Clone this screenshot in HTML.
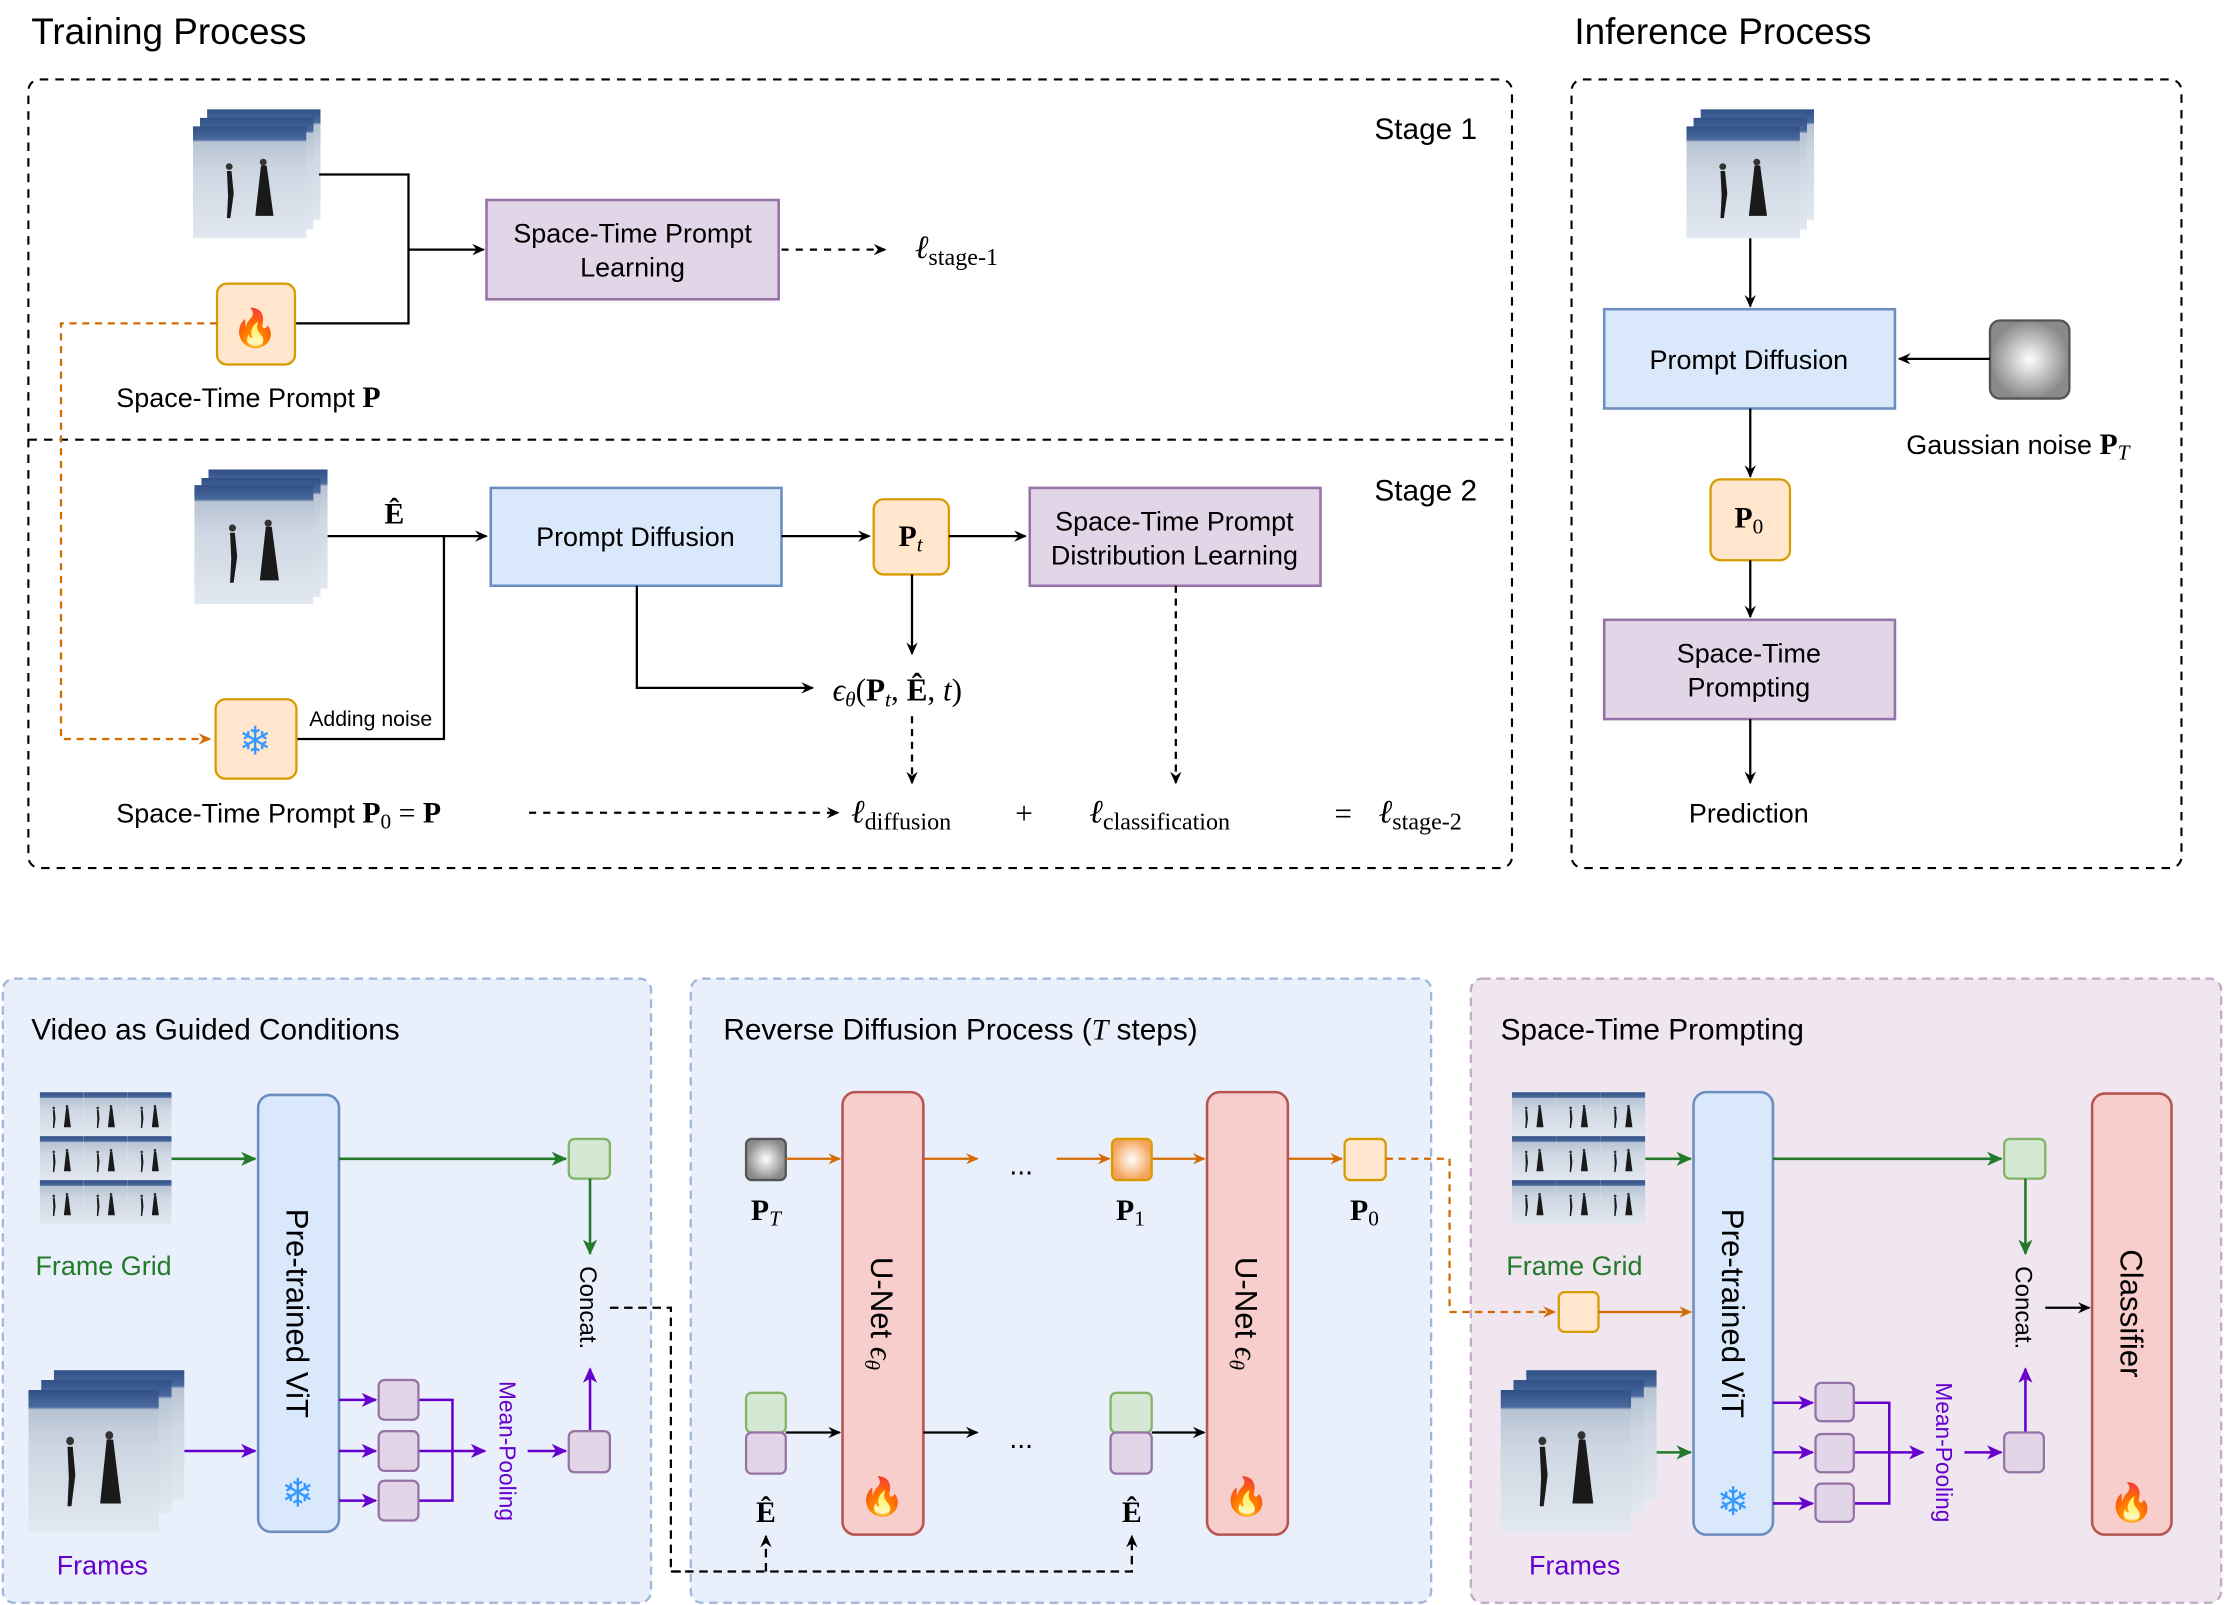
<!DOCTYPE html>
<html><head><meta charset="utf-8"><style>
html,body{margin:0;padding:0;background:#fff}
svg{display:block}
text{font-family:"Liberation Sans",sans-serif}
.m{font-family:"Liberation Serif",serif}
</style></head><body>
<svg width="2224" height="1605" viewBox="0 0 1568 1131.6" preserveAspectRatio="none" xmlns="http://www.w3.org/2000/svg">
<defs>
<marker id="ak" markerWidth="10" markerHeight="10" refX="8" refY="5" orient="auto" markerUnits="userSpaceOnUse"><path d="M0,1 L9,5 L0,9 L3,5z" fill="#000"/></marker>
<marker id="ao" markerWidth="10" markerHeight="10" refX="8" refY="5" orient="auto" markerUnits="userSpaceOnUse"><path d="M0,1 L9,5 L0,9 L3,5z" fill="#d46a00"/></marker>
<marker id="ag" markerWidth="12" markerHeight="12" refX="10" refY="6" orient="auto" markerUnits="userSpaceOnUse"><path d="M0,1 L11,6 L0,11 L3,6z" fill="#237a2b"/></marker>
<marker id="ap" markerWidth="12" markerHeight="12" refX="10" refY="6" orient="auto" markerUnits="userSpaceOnUse"><path d="M0,1 L11,6 L0,11 L3,6z" fill="#6600cc"/></marker>
<linearGradient id="ice" x1="0" y1="0" x2="0" y2="1"><stop offset="0" stop-color="#2f4f86"/><stop offset="0.12" stop-color="#4a6a9e"/><stop offset="0.14" stop-color="#b8c4d4"/><stop offset="0.4" stop-color="#cdd6e2"/><stop offset="1" stop-color="#e2e8f0"/></linearGradient>
<radialGradient id="gn"><stop offset="0" stop-color="#fff"/><stop offset="1" stop-color="#8a8a8a"/></radialGradient>
<radialGradient id="og"><stop offset="0" stop-color="#fff"/><stop offset="1" stop-color="#f5a35a"/></radialGradient>
<symbol id="img" viewBox="0 0 100 100" preserveAspectRatio="none">
<rect width="100" height="100" fill="url(#ice)"/>
<path d="M30,40 l4,0 l2,20 l-3,22 l-3,0 l1,-20z M60,35 l5,0 l6,45 l-16,0z" fill="#1a1a1a"/>
<circle cx="32" cy="36" r="3" fill="#333"/><circle cx="62" cy="32" r="3" fill="#333"/>
</symbol>
<symbol id="grid" viewBox="0 0 99 99" preserveAspectRatio="none">
<use href="#img" x="0" y="0" width="33" height="33"/><use href="#img" x="33" y="0" width="33" height="33"/><use href="#img" x="66" y="0" width="33" height="33"/>
<use href="#img" x="0" y="33" width="33" height="33"/><use href="#img" x="33" y="33" width="33" height="33"/><use href="#img" x="66" y="33" width="33" height="33"/>
<use href="#img" x="0" y="66" width="33" height="33"/><use href="#img" x="33" y="66" width="33" height="33"/><use href="#img" x="66" y="66" width="33" height="33"/>
</symbol>
</defs>

<text x="22" y="31" font-size="26">Training Process</text>
<text x="1110" y="31" font-size="26">Inference Process</text>

<rect x="20" y="56" width="1046" height="556" rx="8" fill="none" stroke="#000" stroke-width="1.5" stroke-dasharray="6,5"/>
<line x1="20" y1="310" x2="1066" y2="310" stroke="#000" stroke-width="1.5" stroke-dasharray="6,5"/>
<text x="969" y="98" font-size="21">Stage 1</text>
<text x="969" y="353" font-size="21">Stage 2</text>

<use href="#img" x="146" y="77" width="80" height="78"/>
<use href="#img" x="141" y="83" width="80" height="79"/>
<use href="#img" x="136" y="89" width="80" height="79"/>
<polyline points="225,123 288,123 288,228 208,228" fill="none" stroke="#000" stroke-width="1.6"/>
<line x1="288" y1="176" x2="341" y2="176" stroke="#000" stroke-width="1.6" marker-end="url(#ak)"/>
<rect x="153" y="200" width="55" height="57" rx="7" fill="#ffe6cc" stroke="#d79b00" stroke-width="1.6"/>
<text x="180" y="240" font-size="26" text-anchor="middle" style="fill:#e8501e">🔥</text>
<rect x="343" y="141" width="206" height="70" fill="#e1d5e7" stroke="#9673a6" stroke-width="1.8"/>
<text x="446" y="171" font-size="19" text-anchor="middle">Space-Time Prompt</text>
<text x="446" y="195" font-size="19" text-anchor="middle">Learning</text>
<line x1="551" y1="176" x2="624" y2="176" stroke="#000" stroke-width="1.6" stroke-dasharray="5,5" marker-end="url(#ak)"/>
<text x="645" y="182" class="m" font-size="23" font-style="italic">ℓ<tspan font-size="17" font-style="normal" dy="5">stage-1</tspan></text>
<text x="82" y="287" font-size="19">Space-Time Prompt <tspan class="m" font-weight="bold" font-size="21">P</tspan></text>
<polyline points="153,228 43,228 43,521 148,521" fill="none" stroke="#d46a00" stroke-width="1.6" stroke-dasharray="5,4" marker-end="url(#ao)"/>

<use href="#img" x="147" y="331" width="84" height="84"/>
<use href="#img" x="142" y="337" width="84" height="84"/>
<use href="#img" x="137" y="342" width="84" height="84"/>
<text x="278" y="369" class="m" font-size="21" font-weight="bold" text-anchor="middle">Ê</text>
<line x1="231" y1="378" x2="343" y2="378" stroke="#000" stroke-width="1.6" marker-end="url(#ak)"/>
<polyline points="313,378 313,521 209,521" fill="none" stroke="#000" stroke-width="1.6"/>
<text x="218" y="512" font-size="15">Adding noise</text>
<rect x="152" y="493" width="57" height="56" rx="7" fill="#ffe6cc" stroke="#d79b00" stroke-width="1.6"/>
<text x="180" y="532" font-size="28" text-anchor="middle" style="fill:#3399ff">❄</text>
<rect x="346" y="344" width="205" height="69" fill="#dae8fc" stroke="#6c8ebf" stroke-width="1.8"/>
<text x="448" y="385" font-size="19" text-anchor="middle">Prompt Diffusion</text>
<line x1="551" y1="378" x2="613" y2="378" stroke="#000" stroke-width="1.6" marker-end="url(#ak)"/>
<rect x="616" y="352" width="53" height="53" rx="7" fill="#ffe6cc" stroke="#d79b00" stroke-width="1.6"/>
<text x="642" y="385" class="m" font-size="21" text-anchor="middle"><tspan font-weight="bold">P</tspan><tspan font-style="italic" font-size="15" dy="4">t</tspan></text>
<line x1="669" y1="378" x2="723" y2="378" stroke="#000" stroke-width="1.6" marker-end="url(#ak)"/>
<rect x="726" y="344" width="205" height="69" fill="#e1d5e7" stroke="#9673a6" stroke-width="1.8"/>
<text x="828" y="374" font-size="19" text-anchor="middle">Space-Time Prompt</text>
<text x="828" y="398" font-size="19" text-anchor="middle">Distribution Learning</text>
<polyline points="449,413 449,485 573,485" fill="none" stroke="#000" stroke-width="1.6" marker-end="url(#ak)"/>
<text x="587" y="494" class="m" font-size="22"><tspan font-style="italic">ϵ</tspan><tspan font-style="italic" font-size="15" dy="4">θ</tspan><tspan dy="-4">(</tspan><tspan font-weight="bold">P</tspan><tspan font-style="italic" font-size="15" dy="4">t</tspan><tspan dy="-4">, </tspan><tspan font-weight="bold">Ê</tspan><tspan>, </tspan><tspan font-style="italic">t</tspan><tspan>)</tspan></text>
<line x1="643" y1="405" x2="643" y2="461" stroke="#000" stroke-width="1.6" marker-end="url(#ak)"/>
<line x1="643" y1="505" x2="643" y2="552" stroke="#000" stroke-width="1.6" stroke-dasharray="5,4" marker-end="url(#ak)"/>
<line x1="829" y1="413" x2="829" y2="552" stroke="#000" stroke-width="1.6" stroke-dasharray="5,4" marker-end="url(#ak)"/>
<text x="82" y="580" font-size="19">Space-Time Prompt <tspan class="m" font-weight="bold" font-size="21">P</tspan><tspan class="m" font-size="15" dy="4">0</tspan><tspan class="m" font-size="21" dy="-4"> = </tspan><tspan class="m" font-weight="bold" font-size="21">P</tspan></text>
<line x1="373" y1="573" x2="591" y2="573" stroke="#000" stroke-width="1.6" stroke-dasharray="5,5" marker-end="url(#ak)"/>
<text x="600" y="580" class="m" font-size="23" font-style="italic">ℓ<tspan font-size="17" font-style="normal" dy="5">diffusion</tspan></text>
<text x="722" y="581" class="m" font-size="22" text-anchor="middle">+</text>
<text x="768" y="580" class="m" font-size="23" font-style="italic">ℓ<tspan font-size="17" font-style="normal" dy="5">classification</tspan></text>
<text x="947" y="581" class="m" font-size="22" text-anchor="middle">=</text>
<text x="972" y="580" class="m" font-size="23" font-style="italic">ℓ<tspan font-size="17" font-style="normal" dy="5">stage-2</tspan></text>

<rect x="1108" y="56" width="430" height="556" rx="8" fill="none" stroke="#000" stroke-width="1.5" stroke-dasharray="6,5"/>
<use href="#img" x="1199" y="77" width="80" height="78"/>
<use href="#img" x="1194" y="83" width="80" height="79"/>
<use href="#img" x="1189" y="89" width="80" height="79"/>
<line x1="1234" y1="168" x2="1234" y2="216" stroke="#000" stroke-width="1.6" marker-end="url(#ak)"/>
<rect x="1131" y="218" width="205" height="70" fill="#dae8fc" stroke="#6c8ebf" stroke-width="1.8"/>
<text x="1233" y="260" font-size="19" text-anchor="middle">Prompt Diffusion</text>
<rect x="1403" y="226" width="56" height="55" rx="7" fill="url(#gn)" stroke="#555" stroke-width="1.6"/>
<line x1="1403" y1="253" x2="1339" y2="253" stroke="#000" stroke-width="1.6" marker-end="url(#ak)"/>
<text x="1344" y="320" font-size="19">Gaussian noise <tspan class="m" font-weight="bold" font-size="21">P</tspan><tspan class="m" font-style="italic" font-size="15" dy="4">T</tspan></text>
<line x1="1234" y1="288" x2="1234" y2="336" stroke="#000" stroke-width="1.6" marker-end="url(#ak)"/>
<rect x="1206" y="338" width="56" height="57" rx="7" fill="#ffe6cc" stroke="#d79b00" stroke-width="1.6"/>
<text x="1233" y="372" class="m" font-size="21" text-anchor="middle"><tspan font-weight="bold">P</tspan><tspan font-size="15" dy="4">0</tspan></text>
<line x1="1234" y1="395" x2="1234" y2="435" stroke="#000" stroke-width="1.6" marker-end="url(#ak)"/>
<rect x="1131" y="437" width="205" height="70" fill="#e1d5e7" stroke="#9673a6" stroke-width="1.8"/>
<text x="1233" y="467" font-size="19" text-anchor="middle">Space-Time</text>
<text x="1233" y="491" font-size="19" text-anchor="middle">Prompting</text>
<line x1="1234" y1="507" x2="1234" y2="552" stroke="#000" stroke-width="1.6" marker-end="url(#ak)"/>
<text x="1233" y="580" font-size="19" text-anchor="middle">Prediction</text>

<rect x="2" y="690" width="457" height="440" rx="8" fill="#eaf0fb" stroke="#9db6dc" stroke-width="1.6" stroke-dasharray="6,4"/>
<text x="22" y="733" font-size="21">Video as Guided Conditions</text>
<use href="#grid" x="28" y="770" width="93" height="93"/>
<text x="25" y="899" font-size="19" style="fill:#237a2b">Frame Grid</text>
<use href="#img" x="38" y="966" width="92" height="92"/>
<use href="#img" x="29" y="973" width="92" height="94"/>
<use href="#img" x="20" y="980" width="92" height="100"/>
<text x="40" y="1110" font-size="19" style="fill:#6600cc">Frames</text>
<rect x="182" y="772" width="57" height="308" rx="9" fill="#dae8fc" stroke="#6c8ebf" stroke-width="1.8"/>
<text transform="translate(202,926) rotate(90)" font-size="22" text-anchor="middle">Pre-trained ViT</text>
<text x="210" y="1062" font-size="28" text-anchor="middle" style="fill:#3399ff">❄</text>
<line x1="121" y1="817" x2="180" y2="817" stroke="#237a2b" stroke-width="1.8" marker-end="url(#ag)"/>
<line x1="239" y1="817" x2="399" y2="817" stroke="#237a2b" stroke-width="1.8" marker-end="url(#ag)"/>
<rect x="401" y="803" width="29" height="28" rx="4" fill="#d5e8d4" stroke="#82b366" stroke-width="1.6"/>
<line x1="416" y1="831" x2="416" y2="884" stroke="#237a2b" stroke-width="1.8" marker-end="url(#ag)"/>
<text transform="translate(409,922) rotate(90)" font-size="17" text-anchor="middle">Concat.</text>
<line x1="416" y1="1009" x2="416" y2="965" stroke="#6600cc" stroke-width="1.8" marker-end="url(#ap)"/>
<line x1="130" y1="1023" x2="180" y2="1023" stroke="#6600cc" stroke-width="1.8" marker-end="url(#ap)"/>
<g stroke="#6600cc" stroke-width="1.8" fill="none">
<line x1="239" y1="987" x2="265" y2="987" marker-end="url(#ap)"/>
<line x1="239" y1="1023" x2="265" y2="1023" marker-end="url(#ap)"/>
<line x1="239" y1="1058" x2="265" y2="1058" marker-end="url(#ap)"/>
<polyline points="295,987 319,987 319,1058 295,1058"/>
<line x1="295" y1="1023" x2="342" y2="1023" marker-end="url(#ap)"/>
<line x1="372" y1="1023" x2="399" y2="1023" marker-end="url(#ap)"/>
</g>
<g fill="#e1d5e7" stroke="#9673a6" stroke-width="1.6">
<rect x="267" y="973" width="28" height="28" rx="4"/><rect x="267" y="1009" width="28" height="28" rx="4"/><rect x="267" y="1044" width="28" height="28" rx="4"/>
<rect x="401" y="1009" width="29" height="29" rx="4"/>
</g>
<text transform="translate(352,1023) rotate(90)" font-size="16" text-anchor="middle" style="fill:#6600cc">Mean-Pooling</text>
<polyline points="430,922 473,922 473,1108 798,1108 798,1083" fill="none" stroke="#000" stroke-width="1.6" stroke-dasharray="6,4" marker-end="url(#ak)"/>

<rect x="487" y="690" width="522" height="440" rx="8" fill="#eaf0fb" stroke="#9db6dc" stroke-width="1.6" stroke-dasharray="6,4"/>
<polyline points="473,1108 798,1108 798,1083" fill="none" stroke="#000" stroke-width="1.6" stroke-dasharray="6,4" marker-end="url(#ak)"/>
<line x1="540" y1="1108" x2="540" y2="1083" stroke="#000" stroke-width="1.6" stroke-dasharray="6,4" marker-end="url(#ak)"/>
<text x="510" y="733" font-size="21">Reverse Diffusion Process (<tspan class="m" font-style="italic">T</tspan> steps)</text>
<rect x="526" y="803" width="28" height="29" rx="4" fill="url(#gn)" stroke="#555" stroke-width="1.6"/>
<text x="540" y="860" class="m" font-size="21" text-anchor="middle"><tspan font-weight="bold">P</tspan><tspan font-style="italic" font-size="15" dy="4">T</tspan></text>
<g stroke="#d46a00" stroke-width="1.6">
<line x1="554" y1="817" x2="592" y2="817" marker-end="url(#ao)"/>
<line x1="651" y1="817" x2="689" y2="817" marker-end="url(#ao)"/>
<line x1="745" y1="817" x2="782" y2="817" marker-end="url(#ao)"/>
<line x1="812" y1="817" x2="849" y2="817" marker-end="url(#ao)"/>
<line x1="908" y1="817" x2="946" y2="817" marker-end="url(#ao)"/>
</g>
<text x="720" y="828" font-size="20" text-anchor="middle">...</text>
<text x="720" y="1021" font-size="20" text-anchor="middle">...</text>
<rect x="784" y="803" width="28" height="29" rx="4" fill="url(#og)" stroke="#d79b00" stroke-width="1.6"/>
<text x="797" y="860" class="m" font-size="21" text-anchor="middle"><tspan font-weight="bold">P</tspan><tspan font-size="15" dy="4">1</tspan></text>
<rect x="948" y="803" width="29" height="29" rx="4" fill="#ffe6cc" stroke="#d79b00" stroke-width="1.6"/>
<text x="962" y="860" class="m" font-size="21" text-anchor="middle"><tspan font-weight="bold">P</tspan><tspan font-size="15" dy="4">0</tspan></text>
<rect x="594" y="770" width="57" height="312" rx="9" fill="#f8cecc" stroke="#b85450" stroke-width="1.8"/>
<rect x="851" y="770" width="57" height="312" rx="9" fill="#f8cecc" stroke="#b85450" stroke-width="1.8"/>
<text transform="translate(614,926) rotate(90)" font-size="22" text-anchor="middle">U-Net <tspan class="m" font-style="italic">ϵ</tspan><tspan class="m" font-style="italic" font-size="15" dy="4">θ</tspan></text>
<text transform="translate(871,926) rotate(90)" font-size="22" text-anchor="middle">U-Net <tspan class="m" font-style="italic">ϵ</tspan><tspan class="m" font-style="italic" font-size="15" dy="4">θ</tspan></text>
<text x="622" y="1064" font-size="26" text-anchor="middle" style="fill:#e8501e">🔥</text>
<text x="879" y="1064" font-size="26" text-anchor="middle" style="fill:#e8501e">🔥</text>
<rect x="526" y="982" width="28" height="28" rx="4" fill="#d5e8d4" stroke="#82b366" stroke-width="1.6"/>
<rect x="526" y="1010" width="28" height="29" rx="4" fill="#e1d5e7" stroke="#9673a6" stroke-width="1.6"/>
<rect x="783" y="982" width="29" height="28" rx="4" fill="#d5e8d4" stroke="#82b366" stroke-width="1.6"/>
<rect x="783" y="1010" width="29" height="29" rx="4" fill="#e1d5e7" stroke="#9673a6" stroke-width="1.6"/>
<g stroke="#000" stroke-width="1.6">
<line x1="554" y1="1010" x2="592" y2="1010" marker-end="url(#ak)"/>
<line x1="651" y1="1010" x2="689" y2="1010" marker-end="url(#ak)"/>
<line x1="812" y1="1010" x2="849" y2="1010" marker-end="url(#ak)"/>
</g>
<text x="540" y="1073" class="m" font-size="21" font-weight="bold" text-anchor="middle">Ê</text>
<text x="798" y="1073" class="m" font-size="21" font-weight="bold" text-anchor="middle">Ê</text>

<rect x="1037" y="690" width="529" height="440" rx="8" fill="#efe6f0" stroke="#c3a8c7" stroke-width="1.6" stroke-dasharray="6,4"/>
<polyline points="977,817 1022,817 1022,925 1096,925" fill="none" stroke="#d46a00" stroke-width="1.6" stroke-dasharray="5,4" marker-end="url(#ao)"/>
<text x="1058" y="733" font-size="21">Space-Time Prompting</text>
<use href="#grid" x="1066" y="770" width="94" height="93"/>
<text x="1062" y="899" font-size="19" style="fill:#237a2b">Frame Grid</text>
<use href="#img" x="1076" y="966" width="92" height="92"/>
<use href="#img" x="1067" y="973" width="92" height="94"/>
<use href="#img" x="1058" y="980" width="92" height="100"/>
<text x="1078" y="1110" font-size="19" style="fill:#6600cc">Frames</text>
<rect x="1099" y="911" width="28" height="28" rx="4" fill="#ffe6cc" stroke="#d79b00" stroke-width="1.6"/>
<line x1="1127" y1="925" x2="1192" y2="925" stroke="#d46a00" stroke-width="1.6" marker-end="url(#ao)"/>
<rect x="1194" y="770" width="56" height="312" rx="9" fill="#dae8fc" stroke="#6c8ebf" stroke-width="1.8"/>
<text transform="translate(1214,926) rotate(90)" font-size="22" text-anchor="middle">Pre-trained ViT</text>
<text x="1222" y="1068" font-size="28" text-anchor="middle" style="fill:#3399ff">❄</text>
<line x1="1160" y1="817" x2="1192" y2="817" stroke="#237a2b" stroke-width="1.8" marker-end="url(#ag)"/>
<line x1="1250" y1="817" x2="1411" y2="817" stroke="#237a2b" stroke-width="1.8" marker-end="url(#ag)"/>
<rect x="1413" y="803" width="29" height="28" rx="4" fill="#d5e8d4" stroke="#82b366" stroke-width="1.6"/>
<line x1="1428" y1="831" x2="1428" y2="884" stroke="#237a2b" stroke-width="1.8" marker-end="url(#ag)"/>
<text transform="translate(1421,922) rotate(90)" font-size="17" text-anchor="middle">Concat.</text>
<line x1="1428" y1="1010" x2="1428" y2="965" stroke="#6600cc" stroke-width="1.8" marker-end="url(#ap)"/>
<line x1="1442" y1="922" x2="1473" y2="922" stroke="#000" stroke-width="1.6" marker-end="url(#ak)"/>
<line x1="1168" y1="1024" x2="1192" y2="1024" stroke="#237a2b" stroke-width="1.8" marker-end="url(#ag)"/>
<g stroke="#6600cc" stroke-width="1.8" fill="none">
<line x1="1250" y1="989" x2="1278" y2="989" marker-end="url(#ap)"/>
<line x1="1250" y1="1024" x2="1278" y2="1024" marker-end="url(#ap)"/>
<line x1="1250" y1="1060" x2="1278" y2="1060" marker-end="url(#ap)"/>
<polyline points="1307,989 1332,989 1332,1060 1307,1060"/>
<line x1="1307" y1="1024" x2="1356" y2="1024" marker-end="url(#ap)"/>
<line x1="1385" y1="1024" x2="1411" y2="1024" marker-end="url(#ap)"/>
</g>
<g fill="#e1d5e7" stroke="#9673a6" stroke-width="1.6">
<rect x="1280" y="975" width="27" height="27" rx="4"/><rect x="1280" y="1011" width="27" height="27" rx="4"/><rect x="1280" y="1046" width="27" height="27" rx="4"/>
<rect x="1413" y="1010" width="28" height="28" rx="4"/>
</g>
<text transform="translate(1365,1024) rotate(90)" font-size="16" text-anchor="middle" style="fill:#6600cc">Mean-Pooling</text>
<rect x="1475" y="771" width="56" height="311" rx="9" fill="#f8cecc" stroke="#b85450" stroke-width="1.8"/>
<text transform="translate(1495,926) rotate(90)" font-size="22" text-anchor="middle">Classifier</text>
<text x="1503" y="1068" font-size="26" text-anchor="middle" style="fill:#e8501e">🔥</text>
</svg>
</body></html>
